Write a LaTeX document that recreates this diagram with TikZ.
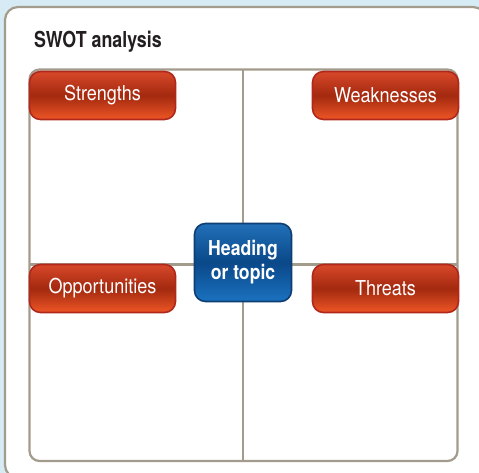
\documentclass[tikz,border=0pt]{standalone}
\usepackage{fontspec}
\newfontfamily\titlefont[FakeStretch=0.81]{TeX Gyre Heros}
\newfontfamily\condfont[FakeStretch=0.88]{TeX Gyre Heros}
\newfontfamily\headfont[FakeStretch=0.86]{TeX Gyre Heros}
\definecolor{bgblue}{HTML}{D6EBF4}
\definecolor{framegray}{HTML}{A39C8C}
\definecolor{redborder}{HTML}{B0281C}
\definecolor{redtop}{HTML}{D8482A}
\definecolor{redmid}{HTML}{A3290F}
\definecolor{redbot}{HTML}{EE5626}
\definecolor{blueborder}{HTML}{0E3E72}
\definecolor{bluetop}{HTML}{2170B8}
\definecolor{bluemid}{HTML}{0A4889}
\definecolor{bluebot}{HTML}{1B72C0}
\definecolor{titlecol}{HTML}{231F20}
\tikzset{
  frameline/.style={draw=framegray, line width=2.2pt},
  divider/.style={draw=framegray, line width=2.2pt},
  redbtn/.style={draw=redborder, line width=1.6pt, rounded corners=11pt,
    top color=redtop, bottom color=redbot, middle color=redmid,
    minimum width=146pt, minimum height=48pt, inner sep=0pt,
    text=white, font=\condfont\fontsize{20.5}{24}\selectfont},
  bluebtn/.style={draw=blueborder, line width=1.6pt, rounded corners=11pt,
    top color=bluetop, bottom color=bluebot, middle color=bluemid,
    minimum width=97pt, minimum height=78pt, inner sep=0pt, align=center,
    text=white, font=\headfont\bfseries\fontsize{20.5}{24}\selectfont},
  titletext/.style={anchor=base west, inner sep=0pt, text=titlecol,
    font=\titlefont\bfseries\fontsize{22}{26}\selectfont}
}
\begin{document}
\begin{tikzpicture}[x=1pt,y=-1pt]
\useasboundingbox (0,0) rectangle (479,473);
\fill[bgblue] (0,0) rectangle (479,473);
% outer white card
\draw[frameline, fill=white, rounded corners=13pt] (5,7) rectangle (486,478);
% inner frame
\draw[frameline, rounded corners=10pt] (29.5,69.5) rectangle (457.5,461);
% title
\node[titletext] (title) at (34,48) {SWOT analysis};
% divider end points
\coordinate (vtop) at (243,69.5);
\coordinate (vbot) at (243,461);
\coordinate (hleft) at (29.5,264.5);
\coordinate (hright) at (457.5,264.5);
\draw[divider] (vtop) -- (vbot);
\draw[divider] (hleft) -- (hright);
% labels
\node[redbtn] (strengths) at (102.5,95.5) {Strengths};
\node[redbtn] (weaknesses) at (385.5,95.5) {Weaknesses};
\node[redbtn] (opportunities) at (102.5,288.5) {Opportunities};
\node[redbtn] (threats) at (385.5,288.5) {Threats};
\node[bluebtn] (heading) at (243,262.5) {Heading\\or topic};
\end{tikzpicture}
\end{document}
